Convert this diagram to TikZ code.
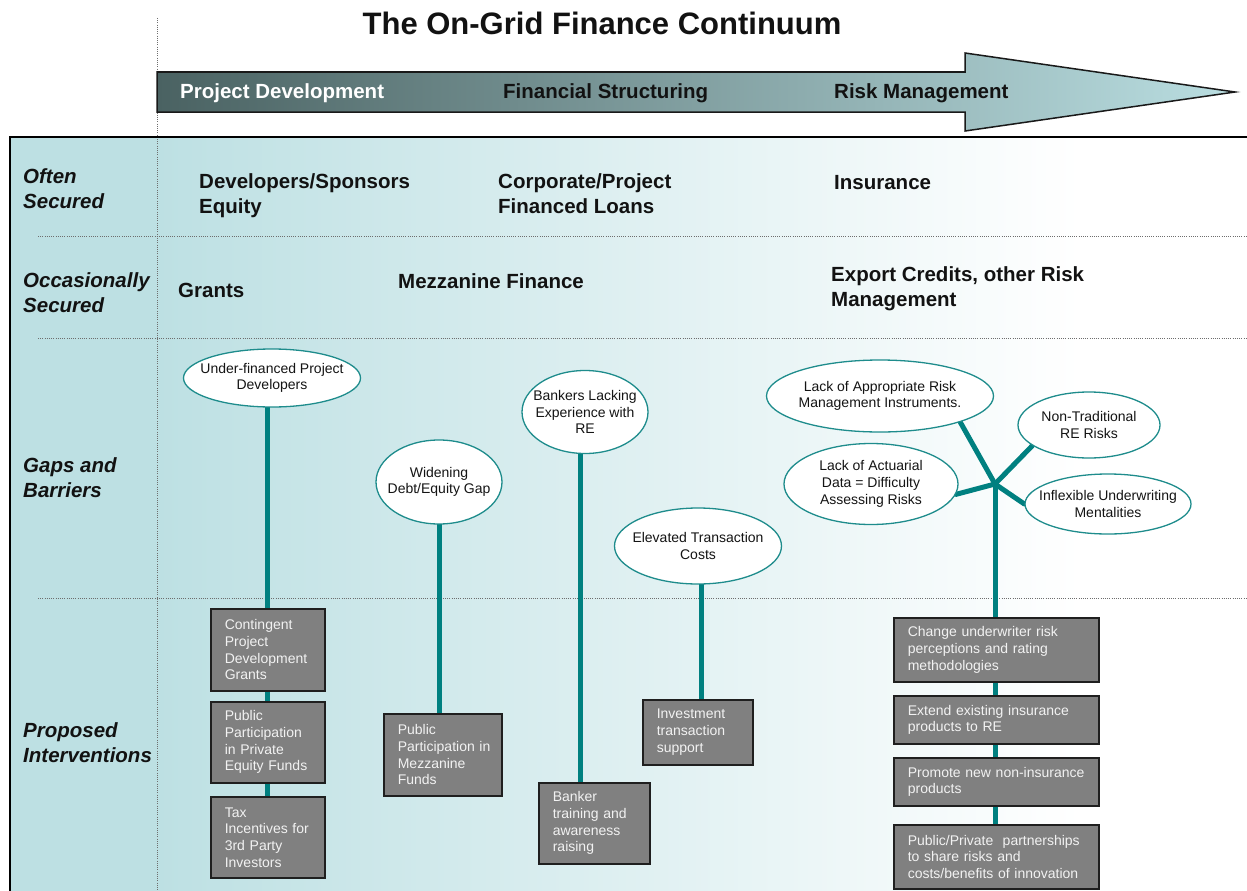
\documentclass[tikz,border=0pt]{standalone}
\usepackage{fontspec}
\setmainfont{Liberation Sans}
\usetikzlibrary{shapes.geometric}
\definecolor{tealline}{RGB}{0,128,128}
\definecolor{bgteal}{RGB}{189,224,227}
\definecolor{arrdark}{RGB}{74,98,98}
\definecolor{arrmid}{RGB}{140,172,174}
\definecolor{arrlight}{RGB}{186,222,225}
\definecolor{boxgray}{RGB}{128,128,128}
\definecolor{ellteal}{RGB}{30,140,140}
\definecolor{boxtext}{RGB}{242,242,242}
\definecolor{dotgray}{RGB}{110,110,110}
\pgfdeclarelayer{bg}
\pgfdeclarelayer{conn}
\pgfsetlayers{bg,conn,main}
\begin{document}
\begin{tikzpicture}[x=1pt,y=-1pt,
  big/.style={font=\fontsize{20.5}{24.5}\selectfont\bfseries, anchor=base west, align=left, inner sep=0pt, text=black!93},
  side/.style={big, font=\fontsize{20.5}{24.5}\selectfont\bfseries\itshape},
  ell/.style={ellipse, draw=ellteal, line width=1.3pt, fill=white, font=\fontsize{14}{16.7}\selectfont, align=center, inner sep=-20pt, text=black!92},
  ibox/.style={rectangle, draw=black!88, line width=1.6pt, fill=boxgray, text=boxtext, font=\fontsize{14}{16.7}\selectfont, align=left, anchor=north west, inner xsep=14pt, inner ysep=0pt},
  conn/.style={draw=tealline, line width=5pt, line cap=round},
  dotln/.style={draw=dotgray, line width=0.9pt, dash pattern=on 1pt off 1.2pt}
]
\useasboundingbox (0,0) rectangle (1247,891);

% ---------- background ----------
\begin{pgfonlayer}{bg}
  \fill[white] (0,0) rectangle (1247,891);
  \fill[bgteal] (10,137) rectangle (157,891);
  \shade[left color=bgteal, right color=white] (157,137) rectangle (1080,891);
  \draw[dotln] (157,18) -- (157,891);
  \draw[dotln] (38,236) -- (1247,236);
  \draw[dotln] (38,338) -- (1247,338);
  \draw[dotln] (38,598) -- (1247,598);
  \draw[black, line width=1.3pt] (10,891) -- (10,137) -- (1247,137);
\end{pgfonlayer}

% ---------- title & arrow ----------
\node[font=\fontsize{31}{36}\selectfont\bfseries, anchor=base, inner sep=0pt, text=black!93] (title) at (602,35) {The On-Grid Finance Continuum};

\path[draw=black!90, line width=1.5pt, left color=arrdark, middle color=arrmid, right color=arrlight]
  (157,72) -- (965,72) -- (965,53) -- (1235,92) -- (965,131) -- (965,112) -- (157,112) -- cycle;
\node[big, text=white] (pd) at (180,99) {Project Development};
\node[big] (fs) at (503,99) {Financial Structuring};
\node[big] (rm) at (834,99) {Risk Management};

% ---------- row labels (anchor = baseline of last line) ----------
\node[side] (often) at (23,208) {Often\\Secured};
\node[side] (occas) at (23,312) {Occasionally\\Secured};
\node[side] (gaps) at (23,497) {Gaps and\\Barriers};
\node[side] (prop) at (23,762) {Proposed\\Interventions};

% ---------- row contents ----------
\node[big] (dev) at (199,213) {Developers/Sponsors\\Equity};
\node[big] (corp) at (498,213) {Corporate/Project\\Financed Loans};
\node[big] (ins) at (834,189) {Insurance};
\node[big] (grants) at (178,297) {Grants};
\node[big] (mezz) at (398,288) {Mezzanine Finance};
\node[big] (exp) at (831,306) {Export Credits, other Risk\\Management};

% ---------- gaps (ellipses) ----------
\node[ell, minimum width=177pt, minimum height=58pt] (uf) at (272,378) {Under-financed Project\\Developers};
\node[ell, minimum width=126pt, minimum height=84pt] (wd) at (439,482) {Widening\\Debt/Equity Gap};
\node[ell, minimum width=126pt, minimum height=83pt] (bk) at (585,412) {Bankers Lacking\\Experience with\\RE};
\node[ell, minimum width=167pt, minimum height=76pt] (el) at (698,546) {Elevated Transaction\\Costs};
\node[ell, minimum width=227pt, minimum height=72pt] (loa) at (880,396) {Lack of Appropriate Risk\\Management Instruments.};
\node[ell, minimum width=142pt, minimum height=66pt] (nt) at (1089,425) {Non-Traditional\\RE Risks};
\node[ell, minimum width=174pt, minimum height=81pt] (lac) at (871,484) {Lack of Actuarial\\Data = Difficulty\\Assessing Risks};
\node[ell, minimum width=166pt, minimum height=60pt] (inf) at (1108,504) {Inflexible Underwriting\\Mentalities};
\coordinate (hub) at (995,484);

% ---------- interventions (boxes) ----------
\node[ibox, text width=86pt, minimum height=82pt] (b1) at (210,608) {Contingent\\Project\\Development\\Grants};
\node[ibox, text width=86pt, minimum height=81pt] (b2) at (210,701) {Public\\Participation\\in~Private\\Equity~Funds};
\node[ibox, text width=86pt, minimum height=81pt] (b3) at (210,796) {Tax\\Incentives~for\\3rd~Party\\Investors};
\node[ibox, text width=90pt, minimum height=82pt] (b4) at (383,713) {Public\\Participation~in\\Mezzanine\\Funds};
\node[ibox, text width=83pt, minimum height=81pt] (b5) at (538,782) {Banker\\training~and\\awareness\\raising};
\node[ibox, text width=82pt, minimum height=65pt] (b6) at (642,699) {Investment\\transaction\\support};
\node[ibox, text width=177pt, minimum height=64pt] (r1) at (893,617) {Change~underwriter~risk\\perceptions~and~rating\\methodologies};
\node[ibox, text width=177pt, minimum height=48pt] (r2) at (893,695) {Extend~existing~insurance\\products~to~RE};
\node[ibox, text width=177pt, minimum height=48pt] (r3) at (893,757) {Promote~new~non-insurance\\products};
\node[ibox, text width=177pt, minimum height=64pt] (r4) at (893,824) {Public/Private~~partnerships\\to~share~risks~and\\costs/benefits~of~innovation};

% ---------- connectors ----------
\begin{pgfonlayer}{conn}
  \draw[conn] (b3.north) -- (b3.north |- uf.center);
  \draw[conn] (wd.center) -- (wd.center |- b4.center);
  \draw[conn] ([xshift=-5pt]bk.center) -- ([xshift=-5pt]bk.center |- b5.center);
  \draw[conn] ([xshift=3pt]el.center) -- ([xshift=3pt]el.center |- b6.center);
  \draw[conn] (hub) -- (hub |- r4.center);
  \draw[conn] (hub) -- (loa.-18);
  \draw[conn] (hub) -- (nt.200);
  \draw[conn] (hub) -- (lac.-7);
  \draw[conn] (hub) -- (inf.west);
\end{pgfonlayer}
\end{tikzpicture}
\end{document}
